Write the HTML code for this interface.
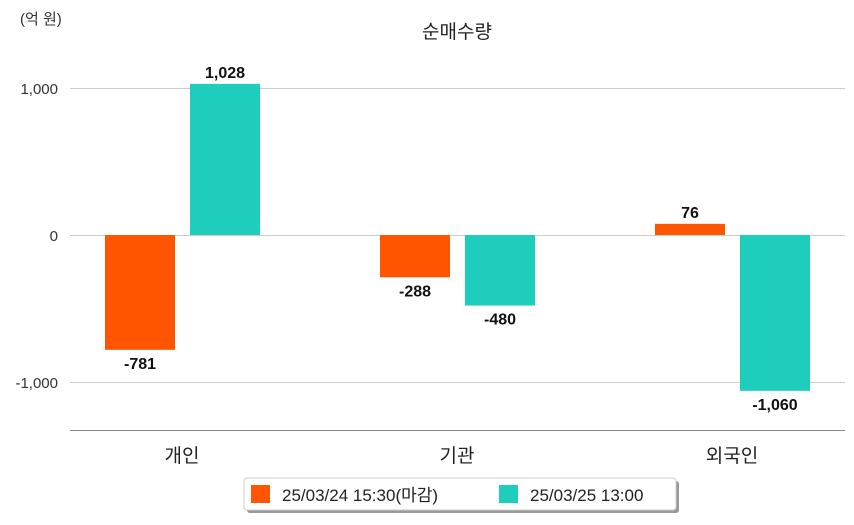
<!DOCTYPE html>
<html><head><meta charset="utf-8"><style>
body{margin:0;background:#fff;font-family:"Liberation Sans","Noto Sans CJK KR",sans-serif}
svg text{font-family:"Liberation Sans","Noto Sans CJK KR",sans-serif}
</style></head><body>
<svg id="c" width="854" height="520" xmlns="http://www.w3.org/2000/svg">
<text x="20" y="24" font-size="15" fill="#333">(억 원)</text>
<text x="457" y="38" font-size="19" text-anchor="middle" fill="#222">순매수량</text>
<g id="grid"></g><g id="bars"></g><g id="labels"></g>
<line x1="70" y1="430.5" x2="845" y2="430.5" stroke="#888"/>
<g>
<rect x="247" y="481" width="432" height="32" rx="3" fill="#999"/>
<rect x="244" y="478" width="432" height="32" rx="3" fill="#fff" stroke="#ccc"/>
<rect x="251" y="485" width="19" height="18" fill="#ff5500"/>
<text x="282" y="501" font-size="17" fill="#222">25/03/24 15:30(마감)</text>
<rect x="499" y="485" width="19" height="18" fill="#1ecdbb"/>
<text x="530" y="501" font-size="17" fill="#222">25/03/25 13:00</text>
</g>
</svg>
<script>
const categories=["개인","기관","외국인"];
const seriesPrev=[-781,-288,76];
const seriesCurr=[1028,-480,-1060];
const yTicks=[1000,0,-1000];
const colors=["#ff5500","#1ecdbb"];
const svg=document.getElementById('c');
const NS="http://www.w3.org/2000/svg";
function y(v){return 235-v*0.147;}
function xc(i){return 182+i*275;}
function mk(t,a,p){const e=document.createElementNS(NS,t);for(const k in a)e.setAttribute(k,a[k]);document.getElementById(p).appendChild(e);return e;}
yTicks.forEach(v=>{
 const l=mk('line',{x1:70,x2:845,y1:y(v)+0.5,y2:y(v)+0.5,stroke:'#ccc'},'grid');
 
 
 const t=mk('text',{x:58,y:y(v)+6,'font-size':15,'text-anchor':'end',fill:'#333'},'grid');
 t.textContent=v.toLocaleString('en-US');
 
 
});
categories.forEach((c,i)=>{
 const t=mk('text',{x:xc(i),y:462,'font-size':19,'text-anchor':'middle',fill:'#222'},'labels');
 t.textContent=c;
 
 
 [seriesPrev[i],seriesCurr[i]].forEach((v,s)=>{
  const x0=xc(i)-77+s*85;
  const top=Math.min(y(v),y(0)),h=Math.abs(y(v)-y(0));
  const r=mk('rect',{x:x0,y:top,width:70,height:h,fill:colors[s]},'bars');
  
  
  const vl=mk('text',{x:x0+35,y:v>=0?y(v)-6:y(v)+19,'font-size':16,'font-weight':'bold','text-anchor':'middle',fill:'#111'},'labels');
  vl.textContent=v.toLocaleString('en-US');
  
  
 });
});
</script>
</body></html>
